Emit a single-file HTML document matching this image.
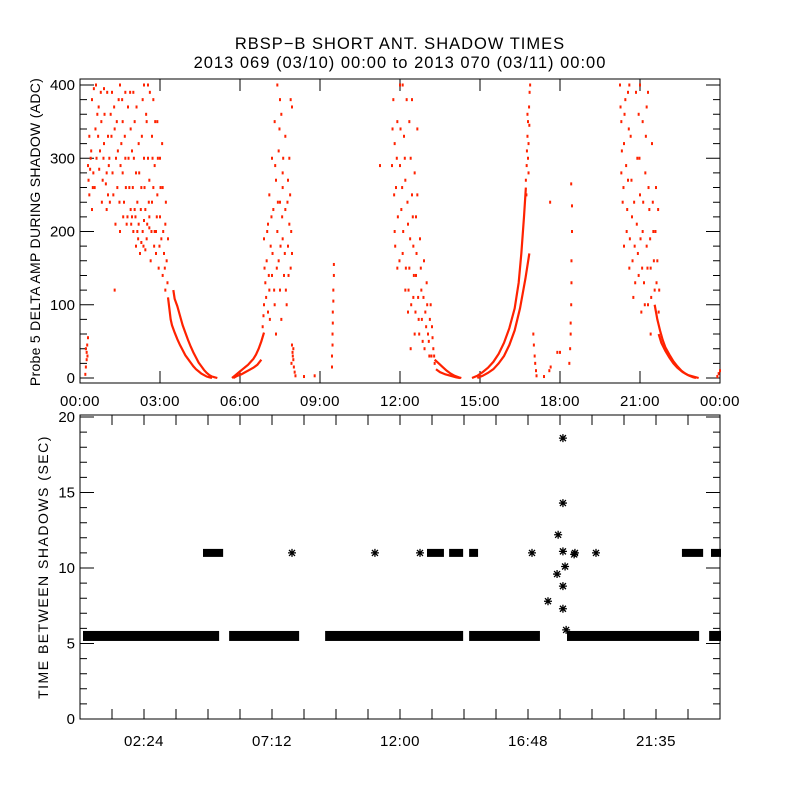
<!DOCTYPE html>
<html><head><meta charset="utf-8"><style>
html,body{margin:0;padding:0;background:#fff;}
svg{display:block;font-family:"Liberation Sans",sans-serif;}
</style></head><body>
<svg id="chart" width="800" height="800" viewBox="0 0 800 800" xmlns="http://www.w3.org/2000/svg">
<rect x="0" y="0" width="800" height="800" fill="#fff"/>
<text x="400" y="49" text-anchor="middle" font-size="16.5" letter-spacing="1">RBSP−B SHORT ANT. SHADOW TIMES</text>
<text x="400" y="68" text-anchor="middle" font-size="16.5" letter-spacing="1">2013 069 (03/10) 00:00 to 2013 070 (03/11) 00:00</text>
<text transform="translate(40,232) rotate(-90)" text-anchor="middle" font-size="14" letter-spacing="0.3">Probe 5 DELTA AMP DURING SHADOW (ADC)</text>
<text transform="translate(48,567) rotate(-90)" text-anchor="middle" font-size="14" letter-spacing="1.5">TIME BETWEEN SHADOWS (SEC)</text>
<g id="topPlot"></g>
<g id="botPlot"></g>
</svg>
<script>
// ---- top panel data: [hour, value] pairs ----
const topXTicks = ["00:00","03:00","06:00","09:00","12:00","15:00","18:00","21:00","00:00"];
const topYTicks = [0,100,200,300,400];
const pass1Scatter = [0.3,290,0.35,250,0.4,300,0.45,230,0.5,280,0.35,330,0.45,380,0.6,400,0.7,370,0.75,310,0.8,350,0.9,395,1.0,280,1.05,250,1.1,300,1.05,330,1.15,360,1.0,230,1.2,390,1.3,340,1.35,300,1.4,260,1.45,380,1.5,400,1.55,320,1.6,280,1.65,240,1.6,350,1.7,300,1.75,210,1.8,370,1.85,260,1.9,230,1.95,310,2.0,390,2.0,200,2.05,350,2.1,280,2.1,180,2.15,240,2.2,320,2.2,210,2.25,170,2.3,260,2.35,380,2.35,200,2.4,300,2.45,230,2.5,190,2.5,350,2.55,400,2.6,270,2.6,220,2.65,160,2.7,330,2.7,240,2.75,380,2.8,200,2.8,290,2.85,170,2.9,350,2.9,250,2.95,150,3.0,220,3.0,300,3.05,190,3.1,260,3.1,140,3.15,170,3.2,210,3.2,120,3.25,160,1.3,120,0.55,260,1.25,250,0.9,320,1.7,390,2.4,400,1.9,340,2.55,300,2.75,260,1.5,200,0.65,360,0.85,270,0.2,5,0.22,15,0.25,25,0.25,35,0.27,45,0.3,55,0.22,40,0.28,30];
const pass1ScatterExtra = [0.32,270,0.38,285,0.42,310,0.48,260,0.52,395,0.58,340,0.62,300,0.68,330,0.72,285,0.78,390,0.82,240,0.88,300,0.92,360,0.97,265,1.02,390,1.08,290,1.12,240,1.18,330,1.22,280,1.28,370,1.33,210,1.38,350,1.42,310,1.48,240,1.52,290,1.58,380,1.62,220,1.68,330,1.72,260,1.78,220,1.82,300,1.88,390,1.92,210,1.98,260,2.02,300,2.08,220,2.12,370,2.18,190,2.22,280,2.28,230,2.32,330,2.38,180,2.42,260,2.48,360,2.52,210,2.58,240,2.62,390,2.68,200,2.72,300,2.78,180,2.82,350,2.88,220,2.92,300,2.98,180,3.02,260,3.08,320,3.12,200,3.18,150,3.22,240,3.28,130,3.3,190,2.3,185,2.45,175,2.15,200,1.95,220,2.05,230,2.4,215,2.6,205,2.85,200];
const pass1CurveA = [3.3,110,3.35,95,3.4,80,3.45,72,3.55,62,3.65,53,3.75,45,3.85,38,3.95,31,4.05,26,4.15,21,4.25,16,4.35,12,4.45,9,4.55,6,4.65,4,4.75,2,4.85,1,4.95,0];
const pass1CurveB = [3.5,120,3.55,108,3.65,98,3.75,85,3.85,72,3.95,62,4.05,52,4.15,43,4.25,35,4.35,28,4.45,21,4.55,16,4.65,11,4.75,7,4.85,4,4.95,2,5.05,1,5.15,0];
const pass2CurveA = [5.7,0,5.8,3,5.9,6,6.0,9,6.1,12,6.2,15,6.3,18,6.4,22,6.5,26,6.6,32,6.7,40,6.8,50,6.9,62];
const pass2CurveB = [5.75,0,5.9,3,6.05,5,6.2,8,6.35,11,6.5,14,6.65,18,6.8,25];
const pass2Scatter = [6.85,70,6.9,100,6.95,130,6.9,190,7.0,160,7.05,90,7.05,210,7.1,120,7.1,250,7.15,180,7.2,300,7.2,140,7.25,230,7.3,350,7.3,100,7.35,270,7.4,200,7.4,400,7.45,310,7.45,160,7.5,240,7.5,120,7.55,360,7.6,280,7.6,190,7.65,140,7.7,230,7.7,330,7.75,100,7.8,270,7.8,180,7.85,210,7.9,150,7.9,380,7.95,170,7.85,300,7.55,80,7.35,60,7.95,45,7.97,35,8.0,25,8.02,15,8.05,8,8.08,3,8.4,2,8.8,3,9.45,15,9.45,30,9.47,45,9.47,60,9.48,75,9.48,90,9.5,105,9.5,120,9.52,140,9.52,155];
const pass2ScatterExtra = [6.88,85,6.92,150,6.98,110,7.02,200,7.08,140,7.12,80,7.18,220,7.22,170,7.28,120,7.32,290,7.38,150,7.42,240,7.48,340,7.52,180,7.58,220,7.62,300,7.68,170,7.72,120,7.78,240,7.82,140,7.88,250,7.92,200,7.5,380,7.6,260,7.95,370,7.98,30,8.0,40,7.93,20];
const pass3Scatter = [11.75,380,11.8,320,11.85,260,11.8,200,11.9,150,11.9,350,12.0,400,12.0,290,12.05,230,12.1,170,12.15,330,12.2,270,12.2,120,12.25,380,12.3,210,12.35,150,12.3,90,12.4,300,12.45,250,12.5,180,12.5,110,12.55,60,12.6,220,12.6,140,12.65,340,12.7,80,12.75,190,12.8,120,12.85,50,12.9,160,12.95,90,13.0,130,13.05,60,13.1,30,13.15,100,13.2,70,13.25,40,13.3,20,12.1,400,11.7,290,12.4,40,12.45,380,11.25,290];
const pass3ScatterExtra = [11.72,340,11.78,250,11.82,180,11.88,300,11.92,220,11.98,160,12.02,340,12.08,260,12.12,200,12.18,300,12.22,150,12.28,240,12.32,120,12.38,190,12.42,100,12.48,220,12.52,140,12.58,90,12.62,170,12.68,110,12.72,60,12.78,150,12.82,80,12.88,110,12.92,40,12.98,70,13.02,100,13.08,50,13.12,80,13.18,30,13.22,55,13.28,30,12.55,280,12.35,350,12.65,250];
const pass3CurveA = [13.3,25,13.45,20,13.6,15,13.75,10,13.9,6,14.05,3,14.2,1,14.3,0];
const pass3CurveB = [13.35,12,13.5,8,13.7,5,13.9,3,14.1,1,14.25,0];
const pass4CurveA = [14.7,0,14.9,3,15.1,8,15.3,14,15.5,22,15.7,33,15.9,48,16.1,68,16.3,95,16.45,130,16.55,170,16.65,220,16.72,260];
const pass4CurveB = [14.9,0,15.1,3,15.3,7,15.5,12,15.7,20,15.9,30,16.1,45,16.3,65,16.5,95,16.7,135,16.85,170];
const pass4Scatter = [16.72,270,16.75,290,16.76,310,16.78,330,16.8,300,16.8,350,16.82,320,16.84,370,16.85,345,16.86,390,16.88,400,16.74,250,16.82,280,16.78,360,17.0,60,17.02,45,17.05,30,17.07,20,17.1,10,17.12,3,17.4,2,17.6,10,17.65,15,17.9,35,18.0,35,17.63,240,18.42,265,18.45,235,18.45,200,18.43,160,18.43,130,18.42,100,18.4,75,18.4,60,18.38,40,18.35,20];
const pass5Scatter = [20.25,400,20.3,350,20.3,280,20.35,240,20.4,320,20.45,380,20.5,200,20.55,270,20.6,150,20.65,330,20.7,220,20.75,110,20.8,180,20.85,390,20.9,300,20.95,140,21.0,250,21.05,90,21.1,200,21.1,350,21.15,130,21.2,280,21.25,180,21.3,100,21.3,390,21.35,230,21.4,150,21.45,320,21.5,200,21.55,120,21.6,260,21.65,160,21.7,90,20.6,400,21.0,400,20.4,180,21.4,60,23.9,2,23.95,6,24.0,10];
const pass5ScatterExtra = [20.27,370,20.32,310,20.38,260,20.42,360,20.48,290,20.52,230,20.58,340,20.62,190,20.68,270,20.72,160,20.78,240,20.82,130,20.88,210,20.92,170,20.98,300,21.02,190,21.08,150,21.12,240,21.18,100,21.22,330,21.28,150,21.32,260,21.38,190,21.42,110,21.48,240,21.52,160,21.58,200,21.62,130,21.68,230,21.72,120,20.95,360,21.25,370,20.55,390];
const pass5CurveA = [21.55,100,21.65,80,21.75,65,21.85,52,21.95,42,22.1,32,22.25,23,22.4,16,22.55,10,22.7,6,22.85,3,23.0,1,23.1,0];
const pass5CurveB = [21.7,60,21.8,48,21.95,37,22.1,28,22.25,20,22.4,14,22.6,8,22.8,4,23.0,2,23.2,0];

// ---- bottom panel data ----
const botXTickLabels = ["02:24","07:12","12:00","16:48","21:35"];
const botXTickHours = [2.4,7.2,12.0,16.8,21.6];
const botYTicks = [0,5,10,15,20];
const bandStart = [0.15,5.63,9.23,14.63,18.3,23.63];
const bandEnd = [5.18,8.18,14.33,17.21,23.18,24.0];
const bandValue = 5.5;
const run11Start = [4.65,13.05,13.88,14.63,22.61,23.7];
const run11End = [5.33,13.61,14.33,14.89,23.33,24.0];
const run11Value = 11;
const starHours = [7.95,11.06,12.75,16.95,18.56,19.35,18.11,18.11,17.93,18.11,18.19,17.89,17.55,18.11,18.11,18.23,18.53];
const starValues = [11,11,11,11,11,11,18.6,14.3,12.2,11.1,10.1,9.6,7.8,8.8,7.3,5.9,10.9];

const NS="http://www.w3.org/2000/svg";
function el(tag,attrs,parent){const e=document.createElementNS(NS,tag);for(const k in attrs)e.setAttribute(k,attrs[k]);parent.appendChild(e);return e;}
const X0=80,X1=720;
const xs=h=>X0+h/24*(X1-X0);
const yTop=v=>378-v*0.7325;
const yBot=v=>719-v*15.1;
const topG=document.getElementById('topPlot'), botG=document.getElementById('botPlot');
const RED="#ff2200";

// top frame
let f=el('rect',{x:80,y:79,width:640,height:304,fill:'none',stroke:'#000','stroke-width':1},topG);


for(let v=0;v<=400;v+=20){
  const y=yTop(v), L=(v%100===0)?14:7;
  let t=el('path',{d:`M80 ${y}h${L}M720 ${y}h${-L}`,stroke:'#000','stroke-width':1},topG);
  
  
}
topYTicks.forEach(v=>{
  let t=el('text',{x:75,y:yTop(v)+5,'text-anchor':'end','font-size':15},topG);
  t.textContent=v;
  
  
});
topXTicks.forEach((s,i)=>{
  const x=xs(i*3);
  let t=el('path',{d:`M${x} 383v-12M${x} 79v12`,stroke:'#000'},topG);
  
  
  let l=el('text',{x:x,y:406,'text-anchor':'middle','font-size':15,'letter-spacing':0.5},topG);
  l.textContent=s;
  
  
});
function dots(arr,name){
  for(let i=0;i<arr.length;i+=2){
    let r=el('rect',{x:xs(arr[i])-1,y:yTop(arr[i+1])-1.5,width:2,height:3,fill:RED},topG);
    
    
  }
}
function curve(arr,name){
  let pts=[];for(let i=0;i<arr.length;i+=2)pts.push(xs(arr[i])+','+yTop(arr[i+1]));
  let p=el('polyline',{points:pts.join(' '),fill:'none',stroke:RED,'stroke-width':2.2},topG);
  
  
}
dots(pass1Scatter,'pass1-point');dots(pass1ScatterExtra,'pass1-point');dots(pass2Scatter,'pass2-point');dots(pass2ScatterExtra,'pass2-point');
dots(pass3Scatter,'pass3-point');dots(pass3ScatterExtra,'pass3-point');dots(pass4Scatter,'pass4-point');dots(pass5Scatter,'pass5-point');dots(pass5ScatterExtra,'pass5-point');
curve(pass1CurveA,'pass1-curve-a');curve(pass1CurveB,'pass1-curve-b');curve(pass2CurveA,'pass2-curve-a');curve(pass2CurveB,'pass2-curve-b');
curve(pass3CurveA,'pass3-curve-a');curve(pass3CurveB,'pass3-curve-b');curve(pass4CurveA,'pass4-curve-a');curve(pass4CurveB,'pass4-curve-b');
curve(pass5CurveA,'pass5-curve-a');curve(pass5CurveB,'pass5-curve-b');

// bottom frame
f=el('rect',{x:80,y:415,width:640,height:304,fill:'none',stroke:'#000'},botG);


for(let v=0;v<=20;v++){
  const y=yBot(v), L=(v%5===0)?14:7;
  let t=el('path',{d:`M80 ${y}h${L}M720 ${y}h${-L}`,stroke:'#000'},botG);
  
  
}
botYTicks.forEach(v=>{
  let t=el('text',{x:75,y:yBot(v)+5,'text-anchor':'end','font-size':15},botG);
  t.textContent=v;
  
  
});
for(let h=1.2;h<24;h+=1.2){
  const x=xs(h);
  let t=el('path',{d:`M${x} 719v-10M${x} 415v10`,stroke:'#000'},botG);
  
  
}
botXTickLabels.forEach((s,i)=>{
  let l=el('text',{x:xs(botXTickHours[i]),y:746,'text-anchor':'middle','font-size':15,'letter-spacing':0.5},botG);
  l.textContent=s;
  
  
});
function star(x,y,name){
  let s=el('path',{d:`M${x-4} ${y}h8M${x} ${y-4}v8M${x-3} ${y-3}l6 6M${x-3} ${y+3}l6 -6`,stroke:'#000','stroke-width':1.3},botG);
  
  
}
bandStart.forEach((s,i)=>{
  let r=el('rect',{x:xs(s)-1,y:yBot(bandValue)-5,width:xs(bandEnd[i])-xs(s)+2,height:10,fill:'#000'},botG);
  
  
});
run11Start.forEach((s,i)=>{
  let r=el('rect',{x:xs(s)-1,y:yBot(run11Value)-4,width:xs(run11End[i])-xs(s)+2,height:8,fill:'#000'},botG);
  
  
});
starHours.forEach((h,i)=>star(xs(h),yBot(starValues[i]),'interval-star'));
</script>
</body></html>
